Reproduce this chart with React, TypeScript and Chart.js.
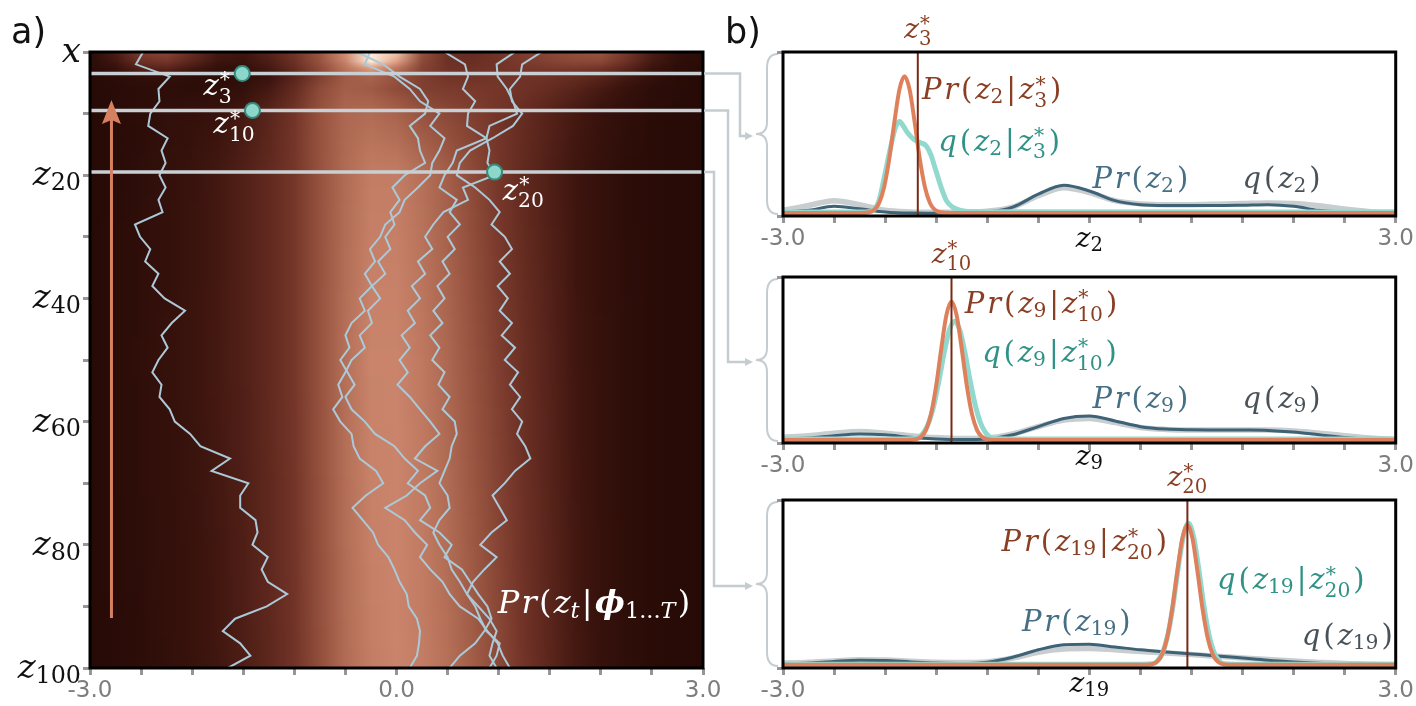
import React, { useEffect, useRef } from 'react';
import { Chart, registerables } from 'chart.js';

Chart.register(...registerables);

// ---------------- DATA ----------------
const X_TICKS = [-3, -2.5, -2, -1.5, -1, -0.5, 0, 0.5, 1, 1.5, 2, 2.5, 3];
const LEFT_X_LABELS = ['-3.0', '', '', '', '', '', '0.0', '', '', '', '', '', '3.0'];
const RIGHT_X_LABELS = ['-3.0', '', '', '', '', '', '', '', '', '', '', '', '3.0'];
const ROW_TICKS = [0, 10, 20, 30, 40, 50, 60, 70, 80, 90, 100];
const ROW_LABELS = ['x', '', 'z_{20}', '', 'z_{40}', '', 'z_{60}', '', 'z_{80}', '', 'z_{100}'];

// posterior heat map: intensity profiles at some rows (x grid step 0.25)
const HEAT_X = [-3, -2.75, -2.5, -2.25, -2, -1.75, -1.5, -1.25, -1, -0.75, -0.5, -0.25, 0, 0.25, 0.5, 0.75, 1, 1.25, 1.5, 1.75, 2, 2.25, 2.5, 2.75, 3];
const HEAT_ROWS = [0, 1.5, 3, 4, 6, 10, 20, 50, 100];
const HEAT_R0 = [0.05, 0.25, 0.5, 0.55, 0.4, 0.22, 0.2, 0.3, 0.45, 0.62, 0.85, 1.0, 0.95, 0.6, 0.42, 0.38, 0.45, 0.5, 0.55, 0.6, 0.62, 0.48, 0.25, 0.1, 0.05];
const HEAT_R1 = [0.05, 0.2, 0.42, 0.46, 0.32, 0.18, 0.16, 0.26, 0.42, 0.6, 0.82, 1.0, 0.9, 0.56, 0.42, 0.4, 0.45, 0.48, 0.52, 0.55, 0.55, 0.42, 0.22, 0.09, 0.04];
const HEAT_R3 = [0.04, 0.12, 0.26, 0.28, 0.18, 0.1, 0.1, 0.2, 0.36, 0.55, 0.74, 0.86, 0.74, 0.52, 0.44, 0.43, 0.45, 0.46, 0.46, 0.45, 0.42, 0.3, 0.16, 0.06, 0.03];
const HEAT_R4 = [0.03, 0.06, 0.1, 0.1, 0.08, 0.06, 0.08, 0.16, 0.32, 0.5, 0.64, 0.68, 0.6, 0.5, 0.45, 0.44, 0.45, 0.44, 0.42, 0.38, 0.32, 0.22, 0.12, 0.05, 0.02];
const HEAT_R6 = [0.02, 0.04, 0.07, 0.08, 0.07, 0.08, 0.12, 0.22, 0.37, 0.56, 0.66, 0.64, 0.57, 0.51, 0.48, 0.47, 0.46, 0.43, 0.38, 0.31, 0.23, 0.14, 0.07, 0.04, 0.02];
const HEAT_R10 = [0.02, 0.04, 0.07, 0.1, 0.12, 0.16, 0.22, 0.32, 0.45, 0.6, 0.7, 0.72, 0.68, 0.6, 0.55, 0.5, 0.45, 0.38, 0.3, 0.22, 0.15, 0.09, 0.05, 0.03, 0.02];
const HEAT_R20 = [0.02, 0.04, 0.08, 0.12, 0.16, 0.21, 0.28, 0.36, 0.46, 0.6, 0.72, 0.8, 0.8, 0.74, 0.66, 0.56, 0.46, 0.36, 0.27, 0.19, 0.12, 0.07, 0.04, 0.03, 0.02];
const HEAT_R50 = [0.02, 0.05, 0.09, 0.13, 0.17, 0.22, 0.28, 0.36, 0.46, 0.6, 0.74, 0.82, 0.82, 0.78, 0.7, 0.6, 0.5, 0.4, 0.3, 0.2, 0.13, 0.08, 0.05, 0.03, 0.02];
const HEAT_R100 = [0.02, 0.04, 0.07, 0.11, 0.15, 0.2, 0.26, 0.34, 0.44, 0.58, 0.72, 0.8, 0.82, 0.8, 0.74, 0.65, 0.55, 0.44, 0.33, 0.22, 0.14, 0.08, 0.05, 0.03, 0.02];
const HEAT = [HEAT_R0, HEAT_R1, HEAT_R3, HEAT_R4, HEAT_R6, HEAT_R10, HEAT_R20, HEAT_R50, HEAT_R100];

// sampled trajectories (x value at rows 0,2,...,100)
const WALK_ROWS = [0, 2, 4, 6, 8, 10, 12, 14, 16, 18, 20, 22, 24, 26, 28, 30, 32, 34, 36, 38, 40, 42, 44, 46, 48, 50, 52, 54, 56, 58, 60, 62, 64, 66, 68, 70, 72, 74, 76, 78, 80, 82, 84, 86, 88, 90, 92, 94, 96, 98, 100];
const WALK_A = [-2.48, -2.55, -2.22, -2.33, -2.32, -2.41, -2.43, -2.24, -2.3, -2.26, -2.32, -2.26, -2.33, -2.29, -2.56, -2.51, -2.41, -2.46, -2.33, -2.39, -2.27, -2.07, -2.2, -2.3, -2.24, -2.33, -2.39, -2.3, -2.32, -2.22, -2.17, -2.02, -1.92, -1.63, -1.81, -1.45, -1.53, -1.53, -1.38, -1.36, -1.41, -1.26, -1.32, -1.26, -1.07, -1.27, -1.58, -1.7, -1.53, -1.43, -1.65];
const WALK_B = [-0.39, -0.13, 0.03, 0.23, 0.31, 0.28, 0.13, 0.21, 0.23, 0.28, 0.08, -0.04, 0.03, -0.06, -0.02, -0.11, -0.06, -0.18, -0.11, -0.24, -0.16, -0.28, -0.24, -0.36, -0.31, -0.44, -0.5, -0.57, -0.53, -0.62, -0.55, -0.44, -0.42, -0.36, -0.2, -0.13, -0.3, -0.43, -0.33, -0.23, -0.18, -0.08, -0.02, 0.03, 0.1, 0.12, 0.2, 0.23, 0.22, 0.2, 0.13];
const WALK_C = [0.47, 0.67, 0.7, 0.65, 0.77, 0.7, 0.69, 0.88, 0.91, 0.89, 0.96, 0.65, 0.7, 0.46, 0.36, 0.28, 0.35, 0.21, 0.28, 0.15, 0.23, 0.11, 0.18, 0.05, 0.13, 0.03, 0.11, 0.01, 0.13, 0.23, 0.33, 0.42, 0.28, 0.18, 0.4, 0.23, 0.1, -0.11, 0.08, 0.18, 0.3, 0.23, 0.33, 0.45, 0.52, 0.62, 0.8, 0.89, 0.99, 1.04, 1.11];
const WALK_D = [1.16, 0.98, 0.99, 1.08, 1.14, 1.18, 0.91, 0.88, 0.59, 0.55, 0.47, 0.42, 0.59, 0.52, 0.62, 0.5, 0.57, 0.45, 0.52, 0.4, 0.47, 0.36, 0.45, 0.33, 0.42, 0.35, 0.47, 0.41, 0.52, 0.45, 0.57, 0.59, 0.54, 0.52, 0.47, 0.42, 0.5, 0.52, 0.42, 0.36, 0.42, 0.5, 0.54, 0.62, 0.69, 0.8, 0.91, 0.98, 0.94, 0.91, 0.98];
const WALK_E = [1.42, 1.23, 1.21, 1.11, 1.13, 1.23, 1.14, 0.94, 0.72, 0.62, 0.59, 0.77, 0.91, 1.01, 0.93, 1.06, 1.13, 1.01, 1.11, 0.99, 1.09, 1.01, 1.13, 1.03, 1.16, 1.06, 1.19, 1.11, 1.21, 1.13, 1.23, 1.18, 1.26, 1.31, 1.16, 1.06, 0.94, 1.01, 1.08, 0.93, 0.82, 0.98, 0.86, 0.75, 0.69, 0.77, 0.82, 0.88, 1.01, 0.98, 0.91];
const WALK_F = [-0.26, -0.31, -0.02, 0.13, 0.23, 0.42, 0.33, 0.47, 0.42, 0.35, 0.33, 0.21, 0.08, 0.03, -0.11, -0.16, -0.26, -0.21, -0.31, -0.24, -0.36, -0.31, -0.44, -0.5, -0.46, -0.55, -0.48, -0.41, -0.5, -0.44, -0.31, -0.21, -0.02, 0.08, 0.21, 0.11, 0.28, 0.33, 0.23, 0.42, 0.54, 0.47, 0.64, 0.72, 0.8, 0.89, 0.93, 0.86, 0.77, 0.62, 0.52];
const WALKS = [WALK_A, WALK_B, WALK_C, WALK_D, WALK_E, WALK_F];

// conditioning points z*_3, z*_10, z*_20
const MARK_ROWS = [3.5, 9.5, 19.5];
const MARK_X = [-1.51, -1.41, 0.96];
const MARK_LABELS = ['z_3^*', 'z_{10}^*', 'z_{20}^*'];

// density curves of the right panels
const DENS_X = [-3, -2.75, -2.5, -2.25, -2, -1.75, -1.5, -1.25, -1, -0.75, -0.5, -0.25, 0, 0.25, 0.5, 0.75, 1, 1.25, 1.5, 1.75, 2, 2.25, 2.5, 2.75, 3];

const P1_PR = [0.01, 0.02, 0.045, 0.03, 0.01, 0.003, 0.002, 0.004, 0.01, 0.04, 0.12, 0.175, 0.14, 0.08, 0.055, 0.05, 0.05, 0.05, 0.052, 0.055, 0.045, 0.02, 0.008, 0.003, 0.002];
const P1_Q = [0.02, 0.05, 0.08, 0.055, 0.02, 0.01, 0.008, 0.01, 0.015, 0.04, 0.11, 0.16, 0.13, 0.08, 0.06, 0.055, 0.055, 0.058, 0.062, 0.066, 0.062, 0.048, 0.028, 0.012, 0.008];
const P1_COND_X = [-3, -2.26, -2.16, -2.11, -2.06, -2.01, -1.96, -1.91, -1.86, -1.81, -1.76, -1.71, -1.66, -1.61, -1.56, -1.51, -1.46, -1.36, 3];
const P1_COND_Y = [0.004, 0.004, 0.008, 0.022, 0.064, 0.163, 0.336, 0.562, 0.767, 0.85, 0.767, 0.562, 0.336, 0.163, 0.064, 0.022, 0.008, 0.004, 0.004];
const P1_QC_X = [-3, -2.2, -2.12, -2.06, -2.0, -1.95, -1.9, -1.86, -1.82, -1.78, -1.72, -1.66, -1.6, -1.55, -1.5, -1.45, -1.4, -1.34, -1.26, -1.1, 3];
const P1_QC_Y = [0.01, 0.01, 0.02, 0.08, 0.25, 0.4, 0.53, 0.57, 0.54, 0.5, 0.46, 0.44, 0.42, 0.36, 0.26, 0.16, 0.08, 0.04, 0.02, 0.012, 0.01];

const P2_PR = [0.01, 0.015, 0.03, 0.04, 0.035, 0.02, 0.01, 0.006, 0.01, 0.035, 0.085, 0.135, 0.15, 0.12, 0.085, 0.07, 0.066, 0.065, 0.064, 0.062, 0.052, 0.035, 0.018, 0.007, 0.003];
const P2_Q = [0.02, 0.03, 0.045, 0.055, 0.045, 0.03, 0.018, 0.012, 0.015, 0.04, 0.085, 0.125, 0.135, 0.11, 0.08, 0.068, 0.064, 0.064, 0.064, 0.064, 0.058, 0.045, 0.03, 0.015, 0.008];
const P2_COND_X = [-3, -1.8, -1.7, -1.65, -1.6, -1.55, -1.5, -1.45, -1.4, -1.35, -1.3, -1.25, -1.2, -1.15, -1.1, -1.05, -1.0, -0.9, 3];
const P2_COND_Y = [0.004, 0.004, 0.008, 0.022, 0.064, 0.163, 0.336, 0.562, 0.767, 0.85, 0.767, 0.562, 0.336, 0.163, 0.064, 0.022, 0.008, 0.004, 0.004];
const P2_QC_X = [-3, -1.8, -1.72, -1.67, -1.62, -1.57, -1.52, -1.47, -1.42, -1.37, -1.32, -1.27, -1.22, -1.17, -1.12, -1.07, -1.02, -0.97, -0.92, -0.8, 3];
const P2_QC_Y = [0.01, 0.01, 0.012, 0.02, 0.051, 0.115, 0.224, 0.375, 0.543, 0.678, 0.73, 0.678, 0.543, 0.375, 0.224, 0.115, 0.051, 0.02, 0.012, 0.01, 0.01];

const P3_PR = [0.01, 0.015, 0.025, 0.032, 0.03, 0.022, 0.015, 0.012, 0.02, 0.05, 0.095, 0.125, 0.128, 0.112, 0.095, 0.082, 0.07, 0.058, 0.045, 0.032, 0.022, 0.014, 0.007, 0.004, 0.003];
const P3_Q = [0.015, 0.02, 0.028, 0.035, 0.033, 0.026, 0.02, 0.018, 0.022, 0.045, 0.08, 0.1, 0.103, 0.095, 0.085, 0.075, 0.066, 0.056, 0.046, 0.036, 0.027, 0.019, 0.012, 0.008, 0.006];
const P3_COND_X = [-3, 0.51, 0.61, 0.66, 0.71, 0.76, 0.81, 0.86, 0.91, 0.96, 1.01, 1.06, 1.11, 1.16, 1.21, 1.26, 1.31, 1.41, 3];
const P3_COND_Y = [0.004, 0.004, 0.008, 0.022, 0.064, 0.163, 0.336, 0.562, 0.767, 0.85, 0.767, 0.562, 0.336, 0.163, 0.064, 0.022, 0.008, 0.004, 0.004];
const P3_QC_X = [-3, 0.52, 0.62, 0.67, 0.72, 0.77, 0.82, 0.87, 0.92, 0.97, 1.02, 1.07, 1.12, 1.17, 1.22, 1.27, 1.32, 1.42, 3];
const P3_QC_Y = [0.008, 0.008, 0.01, 0.029, 0.081, 0.19, 0.367, 0.59, 0.78, 0.86, 0.78, 0.59, 0.367, 0.19, 0.081, 0.029, 0.01, 0.008, 0.008];

const STAR_X = [-1.68, -1.35, 0.96];

// ---------------- STYLE ----------------
const C = {
  walk: 'rgb(172,201,216)',
  hline: 'rgb(200,208,212)',
  connector: 'rgb(196,204,208)',
  dotFill: 'rgb(140,214,202)',
  dotEdge: 'rgb(52,140,126)',
  arrow: 'rgb(214,128,98)',
  tickText: 'rgb(125,125,125)',
  tickMark: 'rgb(150,150,150)',
  orange: 'rgb(222,128,92)',
  teal: 'rgb(145,216,206)',
  blue: 'rgb(62,98,118)',
  gray: 'rgb(200,205,208)',
  starLine: 'rgb(120,42,22)',
  brownText: 'rgb(138,62,36)',
  tealText: 'rgb(48,146,134)',
  blueText: 'rgb(70,110,132)',
  grayText: 'rgb(72,82,88)',
};
const SANS = '"DejaVu Sans", sans-serif';
const SERIF = '"DejaVu Serif", serif';
const CMAP: [number, number[]][] = [
  [0, [36, 9, 5]], [0.17, [58, 19, 13]], [0.3, [85, 34, 25]], [0.45, [115, 52, 40]],
  [0.6, [150, 82, 62]], [0.8, [195, 125, 100]], [0.9, [224, 162, 134]], [1.0, [255, 236, 218]],
];

const LEFT_W = 790;
const RIGHT_LEFT = 720;
const RIGHT_W = 696;
const RIGHT_LAYOUT = [
  { top: 0, height: 260, padTop: 52, axisH: 44, axisDy: 31 },
  { top: 225, height: 255, padTop: 52, axisH: 37, axisDy: 22 },
  { top: 450, height: 256, padTop: 50, axisH: 38, axisDy: 24 },
];
const RIGHT_AREAS = RIGHT_LAYOUT.map((l) => [l.top + l.padTop, l.top + l.height - l.axisH]);
const ELBOW_X = [740, 728, 714];
const ARROW_POS = { x: -2.79, from: 91.9, to: 7.8 };
const TICK_FONT = 23;

// ---------------- MATH TEXT ----------------
type Atom = { base: string; sub?: string; sup?: string };
function parseMath(src: string): Atom[] {
  const chars = Array.from(src);
  const atoms: Atom[] = [];
  let i = 0;
  const readGroup = () => {
    if (chars[i] === '{') {
      let j = i + 1;
      let s = '';
      while (j < chars.length && chars[j] !== '}') { s += chars[j]; j++; }
      i = j + 1;
      return s;
    }
    const s = chars[i];
    i++;
    return s;
  };
  while (i < chars.length) {
    const c = chars[i];
    if (c === '_' || c === '^') {
      i++;
      const g = readGroup();
      const last = atoms[atoms.length - 1];
      if (c === '_') last.sub = g; else last.sup = g;
    } else {
      atoms.push({ base: c });
      i++;
    }
  }
  return atoms;
}
function charFont(ch: string, size: number) {
  if (ch === 'ϕ') return `italic bold ${size}px ${SERIF}`;
  if (/[A-Za-z]/.test(ch)) return `italic ${size}px ${SERIF}`;
  return `${size}px ${SERIF}`;
}
function runWidth(ctx: CanvasRenderingContext2D, s: string, size: number) {
  let w = 0;
  for (const ch of Array.from(s)) { ctx.font = charFont(ch, size); w += ctx.measureText(ch).width; }
  return w;
}
function drawRun(ctx: CanvasRenderingContext2D, s: string, x: number, y: number, size: number) {
  for (const ch of Array.from(s)) {
    ctx.font = charFont(ch, size);
    ctx.fillText(ch, x, y);
    x += ctx.measureText(ch).width;
  }
  return x;
}
function atomWidth(ctx: CanvasRenderingContext2D, a: Atom, size: number) {
  const ss = size * 0.7;
  const w2 = Math.max(a.sub ? runWidth(ctx, a.sub, ss) : 0, a.sup ? runWidth(ctx, a.sup, ss) : 0);
  return runWidth(ctx, a.base, size) + w2;
}
function drawMath(ctx: CanvasRenderingContext2D, src: string, x: number, y: number, size: number, color: string, align = 'left', gapK = 0.07) {
  const atoms = parseMath(src);
  const gap = size * gapK;
  const total = atoms.reduce((w, a) => w + atomWidth(ctx, a, size), 0) + gap * (atoms.length - 1);
  let cx = align === 'left' ? x : align === 'center' ? x - total / 2 : x - total;
  ctx.save();
  ctx.fillStyle = color;
  ctx.textAlign = 'left';
  ctx.textBaseline = 'alphabetic';
  atoms.forEach((a) => {
    cx = drawRun(ctx, a.base, cx, y, size);
    const ss = size * 0.7;
    let w2 = 0;
    if (a.sub) {
      drawRun(ctx, a.sub, cx, y + size * (a.sup ? 0.26 : 0.14), ss);
      w2 = Math.max(w2, runWidth(ctx, a.sub, ss));
    }
    if (a.sup) {
      drawRun(ctx, a.sup, cx + size * 0.04, y - size * 0.3, ss);
      w2 = Math.max(w2, runWidth(ctx, a.sup, ss) + size * 0.04);
    }
    cx += w2 + gap;
  });
  ctx.restore();
}

function heatColor(v: number) {
  const t = Math.max(0, Math.min(1, v));
  for (let i = 0; i < CMAP.length - 1; i++) {
    const [a, ca] = CMAP[i];
    const [b, cb] = CMAP[i + 1];
    if (t <= b) {
      const f = (t - a) / (b - a);
      const c = ca.map((u, k) => Math.round(u + (cb[k] - u) * f));
      return `rgb(${c[0]},${c[1]},${c[2]})`;
    }
  }
  const c = CMAP[CMAP.length - 1][1];
  return `rgb(${c[0]},${c[1]},${c[2]})`;
}

function brace(ctx: CanvasRenderingContext2D, xTip: number, xEdge: number, y0: number, y1: number) {
  const ym = (y0 + y1) / 2;
  const xm = (xTip + xEdge) / 2;
  ctx.beginPath();
  ctx.moveTo(xEdge, y0);
  ctx.quadraticCurveTo(xm, y0, xm, y0 + 14);
  ctx.lineTo(xm, ym - 12);
  ctx.quadraticCurveTo(xm, ym, xTip, ym);
  ctx.quadraticCurveTo(xm, ym, xm, ym + 12);
  ctx.lineTo(xm, y1 - 14);
  ctx.quadraticCurveTo(xm, y1, xEdge, y1);
  ctx.stroke();
}

function xScaleOpts(labels: string[], height: number) {
  return {
    type: 'linear',
    min: -3,
    max: 3,
    afterBuildTicks: (s: any) => { s.ticks = X_TICKS.map((v) => ({ value: v })); },
    afterFit: (s: any) => { s.height = height; },
    ticks: {
      autoSkip: false,
      maxRotation: 0,
      minRotation: 0,
      padding: 2,
      color: C.tickText,
      font: { family: SANS, size: TICK_FONT },
      callback: (_v: any, i: number) => labels[i],
    },
    grid: { drawOnChartArea: false, drawTicks: true, tickLength: 7, tickWidth: 3, tickColor: C.tickMark },
    border: { display: false },
  };
}

// ---------------- LEFT PANEL ----------------
function makeLeft(canvas: HTMLCanvasElement) {
  const walkSets = WALKS.map((w) => ({
    data: w.map((v, i) => ({ x: v, y: WALK_ROWS[i] })),
    borderColor: C.walk,
    borderWidth: 2,
    pointRadius: 0,
    tension: 0,
    order: 3,
  }));
  const hlines = MARK_ROWS.map((r) => ({
    data: [{ x: -3, y: r }, { x: 3, y: r }],
    borderColor: C.hline,
    borderWidth: 3.5,
    pointRadius: 0,
    order: 2,
  }));
  const dots = {
    data: MARK_X.map((x, i) => ({ x, y: MARK_ROWS[i] })),
    showLine: false,
    pointRadius: 7.5,
    pointBackgroundColor: C.dotFill,
    pointBorderColor: C.dotEdge,
    pointBorderWidth: 2,
    order: 1,
  };
  const plugin = {
    id: 'leftDecor',
    beforeDatasetsDraw(chart: any) {
      const { ctx, chartArea: a, scales } = chart;
      const xs = scales.x;
      const ys = scales.y;
      const n = HEAT_X.length;
      const x0 = xs.getPixelForValue(HEAT_X[0]);
      const x1 = xs.getPixelForValue(HEAT_X[n - 1]);
      ctx.save();
      for (let py = Math.floor(a.top); py < Math.ceil(a.bottom); py++) {
        const r = ys.getValueForPixel(py + 0.5);
        let k = 0;
        while (k < HEAT_ROWS.length - 2 && r > HEAT_ROWS[k + 1]) k++;
        const t = Math.min(1, Math.max(0, (r - HEAT_ROWS[k]) / (HEAT_ROWS[k + 1] - HEAT_ROWS[k])));
        const g = ctx.createLinearGradient(x0, 0, x1, 0);
        for (let i = 0; i < n; i++) {
          const v = HEAT[k][i] * (1 - t) + HEAT[k + 1][i] * t;
          g.addColorStop((HEAT_X[i] - HEAT_X[0]) / (HEAT_X[n - 1] - HEAT_X[0]), heatColor(v));
        }
        ctx.fillStyle = g;
        ctx.fillRect(a.left, py, a.right - a.left, 1);
      }
      ctx.restore();
    },
    afterDatasetsDraw(chart: any) {
      const { ctx, chartArea: a, scales } = chart;
      const xs = scales.x;
      const ys = scales.y;
      ctx.save();
      // arrow
      const ax = xs.getPixelForValue(ARROW_POS.x);
      const yb = ys.getPixelForValue(ARROW_POS.from);
      const yt = ys.getPixelForValue(ARROW_POS.to);
      ctx.strokeStyle = C.arrow;
      ctx.fillStyle = C.arrow;
      ctx.lineWidth = 3;
      ctx.beginPath();
      ctx.moveTo(ax, yb);
      ctx.lineTo(ax, yt + 20);
      ctx.stroke();
      ctx.beginPath();
      ctx.moveTo(ax, yt);
      ctx.lineTo(ax - 9.5, yt + 24);
      ctx.lineTo(ax, yt + 20);
      ctx.lineTo(ax + 9.5, yt + 24);
      ctx.closePath();
      ctx.fill();
      // labels of conditioning points
      drawMath(ctx, MARK_LABELS[0], xs.getPixelForValue(-1.89), ys.getPixelForValue(7.0), 29, '#fff');
      drawMath(ctx, MARK_LABELS[1], xs.getPixelForValue(-1.79), ys.getPixelForValue(13.2), 29, '#fff');
      drawMath(ctx, MARK_LABELS[2], xs.getPixelForValue(1.04), ys.getPixelForValue(24.0), 29, '#fff');
      drawMath(ctx, 'Pr(z_t|ϕ_{1...T})', xs.getPixelForValue(0.99), ys.getPixelForValue(91.1), 32, '#fff');
      // frame
      ctx.strokeStyle = '#000';
      ctx.lineWidth = 3;
      ctx.strokeRect(a.left, a.top, a.right - a.left, a.bottom - a.top);
      ctx.restore();
    },
    afterDraw(chart: any) {
      const { ctx, chartArea: a, scales } = chart;
      const ys = scales.y;
      ctx.save();
      ROW_TICKS.forEach((r, i) => {
        if (ROW_LABELS[i]) drawMath(ctx, ROW_LABELS[i], a.left - 9, ys.getPixelForValue(r) + 10, 34, '#111', 'right', 0);
      });
      ctx.fillStyle = '#111';
      ctx.font = `35px ${SANS}`;
      ctx.textBaseline = 'alphabetic';
      ctx.textAlign = 'left';
      ctx.fillText('a)', 11, 43);
      ctx.fillText('b)', 725, 43);
      // connectors
      ctx.strokeStyle = C.connector;
      ctx.fillStyle = C.connector;
      ctx.lineWidth = 2.5;
      MARK_ROWS.forEach((r, i) => {
        const py = ys.getPixelForValue(r);
        const ex = ELBOW_X[i];
        const ty = (RIGHT_AREAS[i][0] + RIGHT_AREAS[i][1]) / 2 + 2;
        ctx.beginPath();
        ctx.moveTo(a.right + 1, py);
        ctx.lineTo(ex, py);
        ctx.lineTo(ex, ty);
        ctx.lineTo(746, ty);
        ctx.stroke();
        ctx.beginPath();
        ctx.moveTo(753, ty);
        ctx.lineTo(745, ty - 4);
        ctx.lineTo(745, ty + 4);
        ctx.closePath();
        ctx.fill();
      });
      ctx.lineWidth = 2;
      RIGHT_AREAS.forEach(([t, b]) => brace(ctx, 756, 778, t + 2, b - 2));
      ctx.restore();
    },
  };
  return new Chart(canvas, {
    type: 'line',
    data: { datasets: [dots, ...hlines, ...walkSets] as any },
    options: {
      animation: false,
      responsive: false,
      devicePixelRatio: 1,
      layout: { padding: { left: 0, top: 52, right: LEFT_W - 703, bottom: 0 } },
      plugins: { legend: { display: false }, tooltip: { enabled: false } },
      scales: {
        x: xScaleOpts(LEFT_X_LABELS, 38) as any,
        y: {
          type: 'linear',
          reverse: true,
          min: 0,
          max: 100,
          afterBuildTicks: (s: any) => { s.ticks = ROW_TICKS.map((v) => ({ value: v })); },
          afterFit: (s: any) => { s.width = 90; },
          ticks: { callback: () => '', autoSkip: false },
          grid: { drawOnChartArea: false, drawTicks: true, tickLength: 7, tickWidth: 3, tickColor: C.tickMark },
          border: { display: false },
        } as any,
      },
    },
    plugins: [plugin],
  });
}

// ---------------- RIGHT PANELS ----------------
const PANELS = [
  {
    pr: P1_PR, q: P1_Q, cx: P1_COND_X, cy: P1_COND_Y, qx: P1_QC_X, qy: P1_QC_Y,
    star: STAR_X[0], starLabel: 'z_3^*', axisLabel: 'z_2',
    labels: [
      { text: 'Pr(z_2|z_3^*)', x: -1.64, y: 0.707, color: C.brownText, align: 'left' },
      { text: 'q(z_2|z_3^*)', x: -1.48, y: 0.39, color: C.tealText, align: 'left' },
      { text: 'Pr(z_2)', x: 0.03, y: 0.16, color: C.blueText, align: 'left' },
      { text: 'q(z_2)', x: 1.5, y: 0.16, color: C.grayText, align: 'left' },
    ],
  },
  {
    pr: P2_PR, q: P2_Q, cx: P2_COND_X, cy: P2_COND_Y, qx: P2_QC_X, qy: P2_QC_Y,
    star: STAR_X[1], starLabel: 'z_{10}^*', axisLabel: 'z_9',
    labels: [
      { text: 'Pr(z_9|z_{10}^*)', x: -1.22, y: 0.78, color: C.brownText, align: 'left' },
      { text: 'q(z_9|z_{10}^*)', x: -1.05, y: 0.48, color: C.tealText, align: 'left' },
      { text: 'Pr(z_9)', x: 0.03, y: 0.2, color: C.blueText, align: 'left' },
      { text: 'q(z_9)', x: 1.5, y: 0.2, color: C.grayText, align: 'left' },
    ],
  },
  {
    pr: P3_PR, q: P3_Q, cx: P3_COND_X, cy: P3_COND_Y, qx: P3_QC_X, qy: P3_QC_Y,
    star: STAR_X[2], starLabel: 'z_{20}^*', axisLabel: 'z_{19}',
    labels: [
      { text: 'Pr(z_{19}|z_{20}^*)', x: 0.76, y: 0.69, color: C.brownText, align: 'right' },
      { text: 'q(z_{19}|z_{20}^*)', x: 1.25, y: 0.46, color: C.tealText, align: 'left' },
      { text: 'Pr(z_{19})', x: -0.66, y: 0.21, color: C.blueText, align: 'left' },
      { text: 'q(z_{19})', x: 2.08, y: 0.125, color: C.grayText, align: 'left' },
    ],
  },
];
const Y_MIN = -0.015;
const Y_MAX = 1;

function makeRight(canvas: HTMLCanvasElement, idx: number) {
  const p = PANELS[idx];
  const L = RIGHT_LAYOUT[idx];
  const curve = (xs: number[], ys: number[], color: string, width: number, order: number) => ({
    data: xs.map((x, i) => ({ x, y: ys[i] })),
    borderColor: color,
    borderWidth: width,
    pointRadius: 0,
    cubicInterpolationMode: 'monotone',
    order,
  });
  const datasets = [
    { data: [{ x: p.star, y: Y_MIN }, { x: p.star, y: Y_MAX }], borderColor: C.starLine, borderWidth: 2, pointRadius: 0, order: 1 },
    curve(p.cx, p.cy, C.orange, 4, 2),
    curve(p.qx, p.qy, C.teal, 5, 3),
    curve(DENS_X, p.pr, C.blue, 3, 4),
    curve(DENS_X, p.q, C.gray, 5.5, 5),
  ];
  const plugin = {
    id: 'rightDecor' + idx,
    afterDatasetsDraw(chart: any) {
      const { ctx, chartArea: a, scales } = chart;
      const xs = scales.x;
      const ys = scales.y;
      ctx.save();
      p.labels.forEach((l) => drawMath(ctx, l.text, xs.getPixelForValue(l.x), ys.getPixelForValue(l.y), 29, l.color, l.align, 0.1));
      drawMath(ctx, p.starLabel, xs.getPixelForValue(p.star), a.top - 14, 28, C.brownText, 'center', 0);
      drawMath(ctx, p.axisLabel, xs.getPixelForValue(0), a.bottom + L.axisDy, 28, '#111', 'center', 0);
      ctx.strokeStyle = '#000';
      ctx.lineWidth = 3;
      ctx.strokeRect(a.left, a.top, a.right - a.left, a.bottom - a.top);
      ctx.restore();
    },
  };
  return new Chart(canvas, {
    type: 'line',
    data: { datasets: datasets as any },
    options: {
      animation: false,
      responsive: false,
      devicePixelRatio: 1,
      layout: { padding: { left: 53, top: L.padTop, right: 20, bottom: 0 } },
      plugins: { legend: { display: false }, tooltip: { enabled: false } },
      scales: {
        x: xScaleOpts(RIGHT_X_LABELS, L.axisH) as any,
        y: {
          type: 'linear',
          min: Y_MIN,
          max: Y_MAX,
          afterBuildTicks: (s: any) => { s.ticks = [{ value: Y_MIN }, { value: Y_MAX }]; },
          afterFit: (s: any) => { s.width = 10; },
          ticks: { callback: () => '', autoSkip: false },
          grid: { drawOnChartArea: false, drawTicks: true, tickLength: 6, tickWidth: 3, tickColor: C.tickMark },
          border: { display: false },
        } as any,
      },
    },
    plugins: [plugin],
  });
}

export default function App() {
  const leftRef = useRef<HTMLCanvasElement>(null);
  const r0 = useRef<HTMLCanvasElement>(null);
  const r1 = useRef<HTMLCanvasElement>(null);
  const r2 = useRef<HTMLCanvasElement>(null);
  useEffect(() => {
    const charts = [
      makeLeft(leftRef.current as HTMLCanvasElement),
      makeRight(r0.current as HTMLCanvasElement, 0),
      makeRight(r1.current as HTMLCanvasElement, 1),
      makeRight(r2.current as HTMLCanvasElement, 2),
    ];
    return () => charts.forEach((c) => c.destroy());
  }, []);
  const rightRefs = [r0, r1, r2];
  return (
    <div style={{ position: 'absolute', left: 0, top: 0, width: 1416, height: 706, background: '#fff', overflow: 'hidden' }}>
      <canvas ref={leftRef} width={LEFT_W} height={706} style={{ position: 'absolute', left: 0, top: 0, width: LEFT_W, height: 706 }} />
      {RIGHT_LAYOUT.map((l, i) => (
        <canvas
          key={i}
          ref={rightRefs[i]}
          width={RIGHT_W}
          height={l.height}
          style={{ position: 'absolute', left: RIGHT_LEFT, top: l.top, width: RIGHT_W, height: l.height }}
        />
      ))}
    </div>
  );
}
